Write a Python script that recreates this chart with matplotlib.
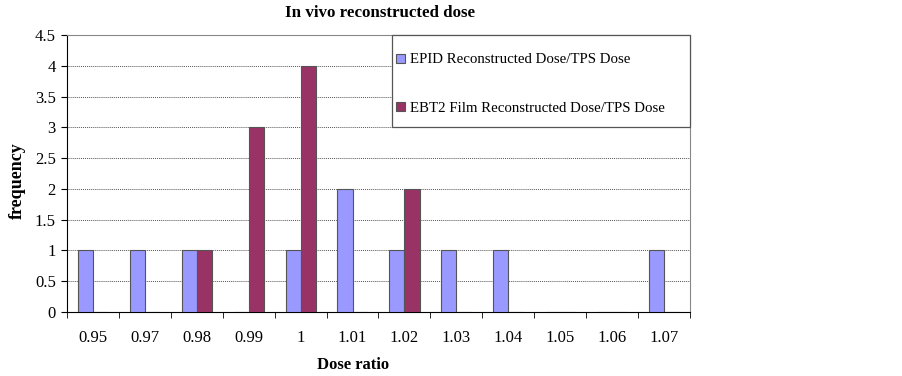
import matplotlib.pyplot as plt
from matplotlib.patches import Rectangle
import numpy as np

plt.rcParams['font.family'] = ['Liberation Serif', 'DejaVu Serif']

ratios = ["0.95", "0.97", "0.98", "0.99", "1", "1.01", "1.02", "1.03", "1.04", "1.05", "1.06", "1.07"]
epid = [1, 1, 1, 0, 1, 2, 1, 1, 1, 0, 0, 1]
ebt2 = [0, 0, 1, 3, 4, 0, 2, 0, 0, 0, 0, 0]
labels = ["EPID Reconstructed Dose/TPS Dose", "EBT2 Film Reconstructed Dose/TPS Dose"]

W, H = 902, 376
fig = plt.figure(figsize=(W / 100, H / 100), dpi=100)
ax = fig.add_axes([67 / W, 1 - 312 / H, (690 - 67) / W, (312 - 35) / H])

x = np.arange(len(ratios))
w = 0.29
ax.bar(x - w / 2, epid, w, color="#9999FF", edgecolor="#555555", linewidth=0.8, label=labels[0], zorder=3)
ax.bar(x + w / 2, ebt2, w, color="#993366", edgecolor="#555555", linewidth=0.8, label=labels[1], zorder=3)

ax.set_xlim(-0.5, len(ratios) - 0.5)
ax.set_ylim(0, 4.5)
ax.set_yticks(np.arange(0, 4.51, 0.5))
ax.set_yticklabels(["0", "0.5", "1", "1.5", "2", "2.5", "3", "3.5", "4", "4.5"], fontsize=12)
ax.set_xticks(x)
ax.set_xticklabels(ratios, fontsize=12)
ax.set_xticks(np.arange(-0.5, len(ratios), 1), minor=True)
ax.tick_params(axis="x", which="major", length=0, pad=13)
ax.tick_params(axis="x", which="minor", length=4, direction="out")
ax.tick_params(axis="y", length=4, direction="out", pad=4)
ax.grid(axis="y", color="#555555", linestyle=(0, (1, 1)), linewidth=0.7, zorder=0)

for s in ["top", "right"]:
    ax.spines[s].set_color("#888888")
ax.spines["left"].set_color("black")
ax.spines["bottom"].set_color("black")

# legend box: white frame attached to the top right corner of the plot
box = Rectangle((392 / W, 1 - 127 / H), (690 - 392) / W, (127 - 35) / H, transform=fig.transFigure,
                facecolor="white", edgecolor="#555555", linewidth=0.9, zorder=5, clip_on=False)
ax.add_patch(box)
leg = ax.legend(loc="upper left", bbox_to_anchor=(392 / W, 1 - 49 / H), bbox_transform=fig.transFigure,
                fontsize=10.7, frameon=False, handlelength=0.55, handleheight=0.55,
                handletextpad=0.35, labelspacing=2.4, borderpad=0, borderaxespad=0.3)
leg.set_zorder(6)

fig.text(380 / W, 1 - 13 / H, "In vivo reconstructed dose", ha="center", va="center",
         fontsize=12.2, fontweight="bold")
fig.text(353 / W, 1 - 365 / H, "Dose ratio", ha="center", va="center",
         fontsize=12, fontweight="bold")
fig.text(17 / W, 1 - 181 / H, "frequency", ha="center", va="center", rotation=90,
         fontsize=13, fontweight="bold")

fig.savefig("out.png", dpi=100)
